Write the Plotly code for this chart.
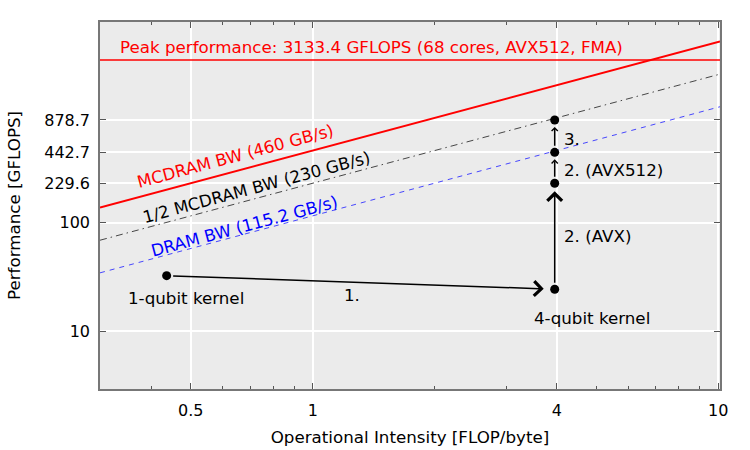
import math
import plotly.graph_objects as go

# ---- data ----
peak_gflops = 3133.4
peak_label = "Peak performance: 3133.4 GFLOPS (68 cores, AVX512, FMA)"
roof_names = ["MCDRAM BW (460 GB/s)", "1/2 MCDRAM BW (230 GB/s)", "DRAM BW (115.2 GB/s)"]
roof_bw = [460.0, 230.0, 115.2]
intensity_span = [0.2986, 10.1]

kernel_x = [0.436, 3.95, 3.95, 3.95, 3.95]
kernel_y = [32.4, 24.3, 229.6, 442.7, 878.7]
step_labels = ["1.", "2. (AVX)", "2. (AVX512)", "3."]
kernel_names = ["1-qubit kernel", "4-qubit kernel"]

x_tickvals = [0.5, 1, 4, 10]
x_ticktext = ["0.5", "1", "4", "10"]
x_minor = [0.3, 0.4, 0.6, 0.7, 0.8, 0.9, 2, 3, 5, 6, 7, 8, 9]
y_tickvals = [10, 100, 229.6, 442.7, 878.7]
y_ticktext = ["10", "100", "229.6", "442.7", "878.7"]

FONT = "DejaVu Sans"
FS = 16.7
L = math.log10

fig = go.Figure()

# peak line
fig.add_trace(go.Scatter(x=intensity_span, y=[peak_gflops] * 2, mode="lines",
                         line=dict(color="#ff0000", width=1.5), hoverinfo="skip"))

roof_styles = [dict(color="#ff0000", width=2),
               dict(color="#333333", width=0.9, dash="7px,4px,1.5px,4px"),
               dict(color="#3333ff", width=0.9, dash="5px,5px")]
for bw, st in zip(roof_bw, roof_styles):
    fig.add_trace(go.Scatter(x=intensity_span, y=[bw * v for v in intensity_span],
                             mode="lines", line=st, hoverinfo="skip"))

# kernel points
fig.add_trace(go.Scatter(x=kernel_x, y=kernel_y, mode="markers",
                         marker=dict(color="black", size=9), hoverinfo="skip"))

annotations = []
# arrows between consecutive points
arrow_cfg = [(1.9, 11, 5), (1.9, 8, 5), (0.8, 7, 5), (0.8, 7, 5)]
for i, (asz, so, sso) in enumerate(arrow_cfg):
    annotations.append(dict(
        x=L(kernel_x[i + 1]), y=L(kernel_y[i + 1]), xref="x", yref="y",
        ax=L(kernel_x[i]), ay=L(kernel_y[i]), axref="x", ayref="y",
        showarrow=True, arrowhead=4, arrowsize=asz, arrowwidth=1.5,
        arrowcolor="black", standoff=so, startstandoff=sso, text=""))

tf = dict(family=FONT, size=FS, color="black")
# step labels
annotations.append(dict(x=0.097, y=1.332, text=step_labels[0], showarrow=False,
                        xref="x", yref="y", font=tf))
annotations.append(dict(x=0.614, y=1.876, text=step_labels[1], showarrow=False,
                        xref="x", yref="y", xanchor="left", font=tf))
annotations.append(dict(x=0.614, y=2.483, text=step_labels[2], showarrow=False,
                        xref="x", yref="y", xanchor="left", font=tf))
annotations.append(dict(x=0.614, y=2.769, text=step_labels[3], showarrow=False,
                        xref="x", yref="y", xanchor="left", font=tf))
# kernel names
annotations.append(dict(x=-0.313, y=1.305, text=kernel_names[0], showarrow=False,
                        xref="x", yref="y", font=tf))
annotations.append(dict(x=0.689, y=1.121, text=kernel_names[1], showarrow=False,
                        xref="x", yref="y", font=tf))
# roof labels
roof_label_pos = [(-0.192, 2.615), (-0.139, 2.330), (-0.169, 1.970)]
roof_label_col = ["#ff0000", "black", "#0000ff"]
for name, (px, py), c in zip(roof_names, roof_label_pos, roof_label_col):
    annotations.append(dict(x=px, y=py, text=name, showarrow=False, textangle=-15,
                            xref="x", yref="y", font=dict(family=FONT, size=FS, color=c)))
# peak label
annotations.append(dict(x=-0.480, y=3.616, text=peak_label, showarrow=False,
                        xref="x", yref="y", xanchor="left",
                        font=dict(family=FONT, size=FS, color="#ff0000")))

axis_common = dict(showline=True, linecolor="#777777", linewidth=1.5, mirror="ticks",
                   ticks="inside", ticklen=6, tickwidth=1, tickcolor="#555555",
                   gridcolor="white", gridwidth=1.5, zeroline=False, automargin=False,
                   tickfont=dict(family=FONT, size=16, color="black"))

fig.update_layout(
    width=750, height=450,
    margin=dict(l=100, r=30, t=22, b=61),
    paper_bgcolor="white", plot_bgcolor="#ebebeb",
    showlegend=False,
    font=dict(family=FONT, size=16, color="black"),
    annotations=annotations,
    xaxis=dict(type="log", range=[L(intensity_span[0]), L(intensity_span[1])],
               tickmode="array", tickvals=x_tickvals, ticktext=x_ticktext,
               ticklabelstandoff=6,
               minor=dict(tickmode="array", tickvals=x_minor, ticks="inside",
                          ticklen=3, tickcolor="#555555", showgrid=False),
               title=dict(text="Operational Intensity [FLOP/byte]", standoff=12,
                          font=dict(family=FONT, size=FS, color="black")),
               **axis_common),
    yaxis=dict(type="log", range=[0.467, 3.846],
               tickmode="array", tickvals=y_tickvals, ticktext=y_ticktext,
               ticklabelstandoff=5,
               title=dict(text="Performance [GFLOPS]", standoff=19,
                          font=dict(family=FONT, size=FS, color="black")),
               **axis_common),
)

fig.write_html("out.html")
